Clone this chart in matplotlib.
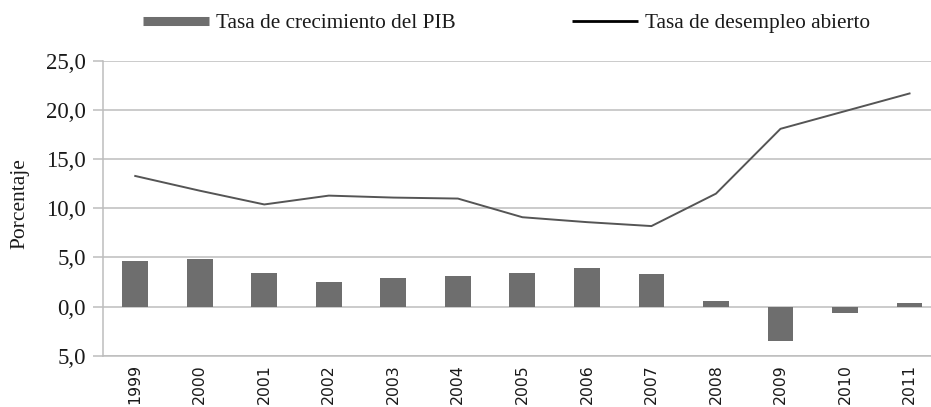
import numpy as np
from matplotlib import pyplot as plt
from matplotlib.lines import Line2D

# values
YEARS = ["1999", "2000", "2001", "2002", "2003", "2004", "2005",
         "2006", "2007", "2008", "2009", "2010", "2011"]
PIB_GROWTH = [4.6, 4.8, 3.4, 2.5, 2.9, 3.1, 3.4, 3.9, 3.3, 0.6, -3.5, -0.6, 0.4]
UNEMPLOYMENT = [13.3, 11.8, 10.4, 11.3, 11.1, 11.0, 9.1, 8.6, 8.2, 11.5, 18.1, 19.9, 21.7]
Y_TICKS = [-5, 0, 5, 10, 15, 20, 25]
Y_TICK_LABELS = ["5,0", "0,0", "5,0", "10,0", "15,0", "20,0", "25,0"]

SERIF = "Liberation Serif"
TEXT_COLOR = "#1a1a1a"
BAR_COLOR = "#6e6e6e"
LINE_COLOR = "#555555"
GRID_COLOR = "#bdbdbd"

fig = plt.figure(figsize=(9.31, 4.07), dpi=100)
ax = fig.add_axes([0.1106, 0.126, 0.901, 0.724])

x = np.arange(len(YEARS))
ax.bar(x, PIB_GROWTH, width=0.4, color=BAR_COLOR, zorder=2)
ax.plot(x, UNEMPLOYMENT, color=LINE_COLOR, linewidth=1.4, zorder=3)

ax.set_xlim(-0.5, len(YEARS) - 0.5)
ax.set_ylim(-5, 25)
ax.set_yticks(Y_TICKS)
ax.set_yticklabels(Y_TICK_LABELS, fontsize=16.5, family=SERIF)
ax.set_xticks(x)
ax.set_xticklabels(YEARS, rotation=90, fontsize=11.3, family="DejaVu Sans", va="top")

ax.grid(True, axis="y", color=GRID_COLOR, linewidth=1.1, zorder=0)
ax.set_axisbelow(True)
for side in ("top", "right"):
    ax.spines[side].set_visible(False)
for side in ("left", "bottom"):
    ax.spines[side].set_color(GRID_COLOR)
    ax.spines[side].set_linewidth(1.1)
ax.tick_params(axis="y", length=7.2, width=1.1, pad=5, labelcolor=TEXT_COLOR, color=GRID_COLOR)
ax.tick_params(axis="x", length=0, pad=6, labelcolor=TEXT_COLOR)

ax.set_ylabel("Porcentaje", fontsize=15.5, family=SERIF, color=TEXT_COLOR)
ax.yaxis.set_label_coords(-0.088, 0.515)

# two legend entries, placed separately as in the reference
legend_items = [
    (Line2D([], [], color=BAR_COLOR, linewidth=6.5, solid_capstyle="butt"),
     "Tasa de crecimiento del PIB", 143 / 931),
    (Line2D([], [], color="black", linewidth=2, solid_capstyle="butt"),
     "Tasa de desempleo abierto", 572 / 931),
]
for handle, label, x0 in legend_items:
    leg = fig.legend([handle], [label], loc="center left", bbox_to_anchor=(x0, 0.943),
                     frameon=False, borderpad=0, borderaxespad=0, handlelength=3.1,
                     handletextpad=0.33, prop={"family": SERIF, "size": 15.3})
    for t in leg.get_texts():
        t.set_color(TEXT_COLOR)

fig.savefig("out.png", dpi=100)
